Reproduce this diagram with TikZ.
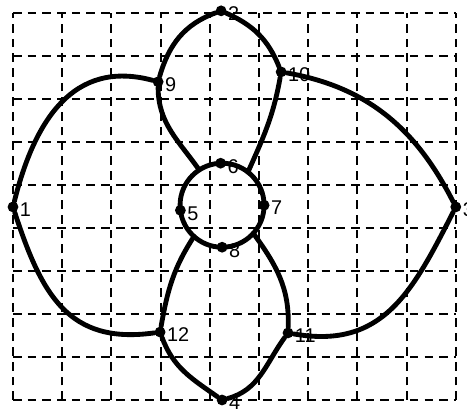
\documentclass[tikz,border=0pt]{standalone}
\usepackage{fontspec}
\setsansfont{Liberation Sans}
\def\rad{0.854cm}

\tikzset{
  vtx/.style={circle, fill=black, inner sep=0pt, minimum size=0.22cm},
  lbl/.style={inner sep=0.5pt, yshift=-0.06cm, font=\sffamily\fontsize{11.5}{13}\selectfont},
  link/.style={line width=2.8pt, line cap=round},
  gridline/.style={line width=1.25pt, dash pattern=on 5pt off 3.5pt}
}

\begin{document}
\begin{tikzpicture}[x=1cm, y=0.874cm]
  \useasboundingbox (-0.264,-0.302) rectangle (9.228,9.302);

  \draw[gridline] (0,0) grid[step=1] (9,9);

  \node[vtx, label={[lbl]right:1}] (n1) at (0,4.49) {};
  \node[vtx, label={[lbl]right:2}] (n2) at (4.23,9.05) {};
  \node[vtx, label={[lbl]right:3}] (n3) at (9.0,4.49) {};
  \node[vtx, label={[lbl]right:4}] (n4) at (4.25,0) {};
  \node[vtx, label={[lbl]right:9}] (n9) at (2.95,7.40) {};
  \node[vtx, label={[lbl]right:10}] (n10) at (5.45,7.63) {};
  \node[vtx, label={[lbl]right:11}] (n11) at (5.59,1.56) {};
  \node[vtx, label={[lbl]right:12}] (n12) at (2.99,1.58) {};

  \coordinate (c) at (4.25,4.53);
  \draw[link] (c) circle (\rad);
  \node[vtx, label={[lbl]right:5}] (n5) at ([shift={(187:\rad)}]c) {};
  \node[vtx, label={[lbl]right:6}] (n6) at ([shift={(92:\rad)}]c) {};
  \node[vtx, label={[lbl]right:7}] (n7) at ([shift={(0:\rad)}]c) {};
  \node[vtx, label={[lbl]right:8}] (n8) at ([shift={(270:\rad)}]c) {};

  \coordinate (j9) at ([shift={(123:\rad)}]c);
  \coordinate (j10) at ([shift={(52:\rad)}]c);
  \coordinate (j11) at ([shift={(318:\rad)}]c);
  \coordinate (j12) at ([shift={(228:\rad)}]c);

  \draw[link] (n1) to[out=76, in=165, looseness=1.15] (n9);
  \draw[link] (n9) to[out=74, in=200] (n2);
  \draw[link] (n2) to[out=-24, in=112] (n10);
  \draw[link] (n10) to[out=-10, in=117] (n3);
  \draw[link] (n3) to[out=243, in=-10, looseness=1.15] (n11);
  \draw[link] (n11) to[out=234, in=15] (n4);
  \draw[link] (n4) to[out=145, in=-70] (n12);
  \draw[link] (n12) to[out=188, in=-72, looseness=1.2] (n1);

  \draw[link] (n9) to[out=-90, in=125] (j9);
  \draw[link] (n10) to[out=-100, in=66] (j10);
  \draw[link] (n11) to[out=88, in=-54] (j11);
  \draw[link] (n12) to[out=80, in=237] (j12);
\end{tikzpicture}
\end{document}
